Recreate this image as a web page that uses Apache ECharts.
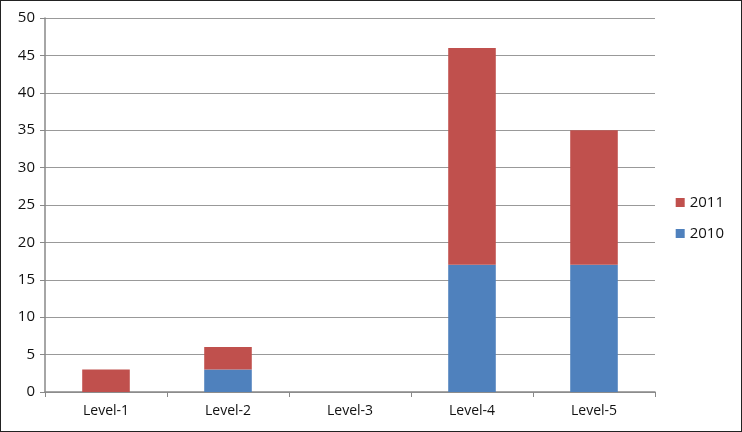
<!DOCTYPE html>
<html><head><meta charset="utf-8">
<script src="https://cdn.jsdelivr.net/npm/echarts@6/dist/echarts.min.js"></script>
<style>
html,body{margin:0;padding:0;background:#fff;}
#c{width:742px;height:432px;box-sizing:border-box;border:1.5px solid #222;}
</style></head><body>
<div id="c"></div>
<script>
const categories = ['Level-1','Level-2','Level-3','Level-4','Level-5'];
const values2010 = [0, 3, 0, 17, 17];
const values2011 = [3, 3, 0, 29, 18];
const yTicks = {min: 0, max: 50, interval: 5};

const chart = echarts.init(document.getElementById('c'));
const font = 'Open Sans';
chart.setOption({
  animation: false,
  grid: {left: 44, right: 86, top: 17, bottom: 39, containLabel: false},
  legend: {
    orient: 'vertical', right: 12, top: 189,
    data: ['2011','2010'],
    itemWidth: 9, itemHeight: 9, itemGap: 16, icon: 'rect',
    textStyle: {fontFamily: font, fontSize: 15, color: '#111'}
  },
  xAxis: {
    type: 'category', data: categories,
    axisLine: {lineStyle: {color: '#888', width: 1.5}},
    axisTick: {show: true, length: 5, lineStyle: {color: '#888'}},
    axisLabel: {fontFamily: font, fontSize: 14, color: '#111', margin: 12}
  },
  yAxis: {
    type: 'value', min: yTicks.min, max: yTicks.max, interval: yTicks.interval,
    axisLine: {show: true, lineStyle: {color: '#888', width: 1.5}},
    axisTick: {show: true, length: 5, lineStyle: {color: '#888'}},
    splitLine: {lineStyle: {color: '#999', width: 1.2}},
    axisLabel: {fontFamily: font, fontSize: 15, color: '#111', margin: 10}
  },
  series: [
    {name: '2010', type: 'bar', stack: 's', data: values2010, barWidth: '39%', itemStyle: {color: '#4F81BD'}},
    {name: '2011', type: 'bar', stack: 's', data: values2011, barWidth: '39%', itemStyle: {color: '#C0504D'}}
  ]
});
</script>
</body></html>
